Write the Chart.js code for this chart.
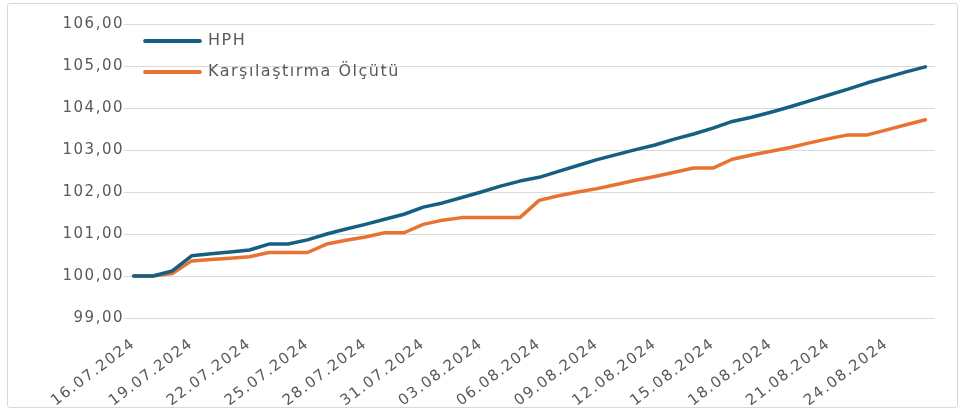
<!DOCTYPE html>
<html>
<head>
<meta charset="utf-8">
<script src="https://cdn.jsdelivr.net/npm/chart.js@4"></script>
<style>
  html, body { margin: 0; padding: 0; background: #fff; }
  #wrap { position: relative; width: 963px; height: 414px; }
  #frame {
    position: absolute; left: 7px; top: 3px; width: 949px; height: 403px;
    border: 1.5px solid #d9d9d9; border-radius: 3px; pointer-events: none;
  }
</style>
</head>
<body>
<div id="wrap">
  <canvas id="chart" width="963" height="414"></canvas>
  <div id="frame"></div>
</div>
<script>
// Data
const dates = [
  "16.07.2024", "17.07.2024", "18.07.2024", "19.07.2024", "20.07.2024", "21.07.2024",
  "22.07.2024", "23.07.2024", "24.07.2024", "25.07.2024", "26.07.2024", "27.07.2024",
  "28.07.2024", "29.07.2024", "30.07.2024", "31.07.2024", "01.08.2024", "02.08.2024",
  "03.08.2024", "04.08.2024", "05.08.2024", "06.08.2024", "07.08.2024", "08.08.2024",
  "09.08.2024", "10.08.2024", "11.08.2024", "12.08.2024", "13.08.2024", "14.08.2024",
  "15.08.2024", "16.08.2024", "17.08.2024", "18.08.2024", "19.08.2024", "20.08.2024",
  "21.08.2024", "22.08.2024", "23.08.2024", "24.08.2024", "25.08.2024", "26.08.2024",
];

const hph = [
  100.00, 100.00, 100.12, 100.48, 100.53, 100.57, 100.62, 100.76, 100.76, 100.86,
  101.00, 101.12, 101.23, 101.35, 101.47, 101.64, 101.74, 101.87, 102.00, 102.14,
  102.26, 102.35, 102.49, 102.63, 102.77, 102.89, 103.01, 103.12, 103.26, 103.38,
  103.52, 103.68, 103.78, 103.90, 104.03, 104.17, 104.31, 104.45, 104.60, 104.73,
  104.86, 104.98,
];

const benchmark = [
  100.00, 100.00, 100.06, 100.36, 100.39, 100.42, 100.46, 100.56, 100.56, 100.56,
  100.76, 100.85, 100.93, 101.03, 101.03, 101.23, 101.33, 101.39, 101.39, 101.39,
  101.39, 101.80, 101.91, 102.00, 102.08, 102.18, 102.28, 102.37, 102.47, 102.57,
  102.57, 102.78, 102.88, 102.97, 103.06, 103.17, 103.27, 103.36, 103.36, 103.48,
  103.60, 103.72,
];

const seriesNames = ["HPH", "Karşılaştırma Ölçütü"];
const seriesColors = ["#156082", "#E97132"];

const textColor = "#595959";
const gridColor = "#d9d9d9";

// wide letter spacing like the original rendering
const spacingPlugin = {
  id: "spacing",
  beforeLayout(chart) { chart.ctx.letterSpacing = "1.5px"; },
  beforeDraw(chart) { chart.ctx.letterSpacing = "1.5px"; },
};

// move the legend a little into the plot
const legendShift = {
  id: "legendShift",
  afterLayout(chart) {
    chart.legend.left += 6;
    chart.legend.top += 18;
  },
};

const ctx = document.getElementById("chart").getContext("2d");
new Chart(ctx, {
  type: "line",
  data: {
    labels: dates,
    datasets: [hph, benchmark].map((values, i) => ({
      label: seriesNames[i],
      data: values,
      borderColor: seriesColors[i],
      backgroundColor: seriesColors[i],
      borderWidth: 3.5,
      borderCapStyle: "round",
      borderJoinStyle: "round",
      pointRadius: 0,
      tension: 0,
    })),
  },
  options: {
    responsive: false,
    animation: false,
    layout: { padding: { top: 24, right: 28, left: 0, bottom: 0 } },
    plugins: {
      tooltip: { enabled: false },
      legend: {
        position: "chartArea",
        align: "start",
        labels: {
          boxWidth: 55,
          boxHeight: 0.5,
          padding: 15,
          color: textColor,
          font: { family: "DejaVu Sans", size: 16 },
        },
      },
    },
    scales: {
      x: {
        offset: true,
        grid: { display: false },
        border: { display: false },
        afterFit(scale) { scale.height = 96; },
        ticks: {
          autoSkip: false,
          minRotation: 37,
          maxRotation: 37,
          padding: 9,
          color: textColor,
          font: { family: "DejaVu Sans", size: 15 },
          callback(value, index) { return index % 3 === 0 ? dates[index] : null; },
        },
      },
      y: {
        min: 99,
        max: 106,
        border: { display: false },
        grid: { color: gridColor, lineWidth: 1, drawTicks: false },
        afterFit(scale) { scale.width = 124; },
        ticks: {
          stepSize: 1,
          padding: 0,
          color: textColor,
          font: { family: "DejaVu Sans", size: 15 },
          callback(value) { return value.toFixed(2).replace(".", ","); },
        },
      },
    },
  },
  plugins: [spacingPlugin, legendShift],
});
</script>
</body>
</html>
